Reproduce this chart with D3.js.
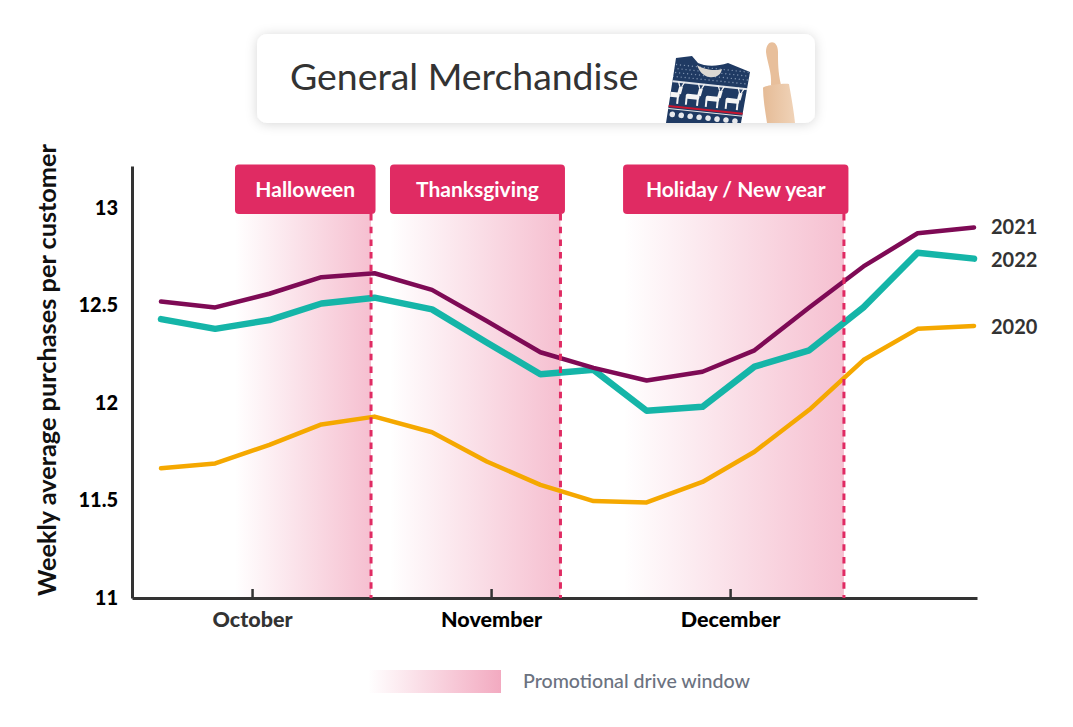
<!DOCTYPE html>
<html>
<head>
<meta charset="utf-8">
<style>
  body { margin: 0; background: #fff; }
  svg { display: block; font-family: Lato, sans-serif; }
</style>
<script src="https://cdn.jsdelivr.net/npm/d3@7"></script>
</head>
<body>
<div id="chart"></div>
<script>
// data
const weeks = [0, 1, 2, 2.96, 3.94, 5, 6.01, 7, 7.98, 8.96, 9.99, 10.95, 11.96, 12.96, 13.96, 15];
const values2020 = [11.665, 11.69, 11.785, 11.89, 11.93, 11.85, 11.70, 11.58, 11.497, 11.49, 11.595, 11.75, 11.965, 12.22, 12.38, 12.395];
const values2021 = [12.52, 12.49, 12.56, 12.645, 12.665, 12.58, 12.42, 12.26, 12.18, 12.115, 12.16, 12.27, 12.49, 12.70, 12.87, 12.90];
const values2022 = [12.43, 12.38, 12.425, 12.51, 12.54, 12.48, 12.31, 12.147, 12.17, 11.96, 11.98, 12.186, 12.27, 12.49, 12.77, 12.74];
const yTicks = [11, 11.5, 12, 12.5, 13];
const monthNames = ["October", "November", "December"];
const monthWeeks = [1.68, 6.09, 10.5];
const windowNames = ["Halloween", "Thanksgiving", "Holiday / New year"];
const windowStarts = [1.365, 4.225, 8.525];
const windowEnds = [3.875, 7.37, 12.6];

const series = [
    { name: "2020", values: values2020, color: "#f5a800", width: 4.5, labelY: 327 },
    { name: "2022", values: values2022, color: "#15b5a8", width: 6.5, labelY: 260 },
    { name: "2021", values: values2021, color: "#7e0a55", width: 4.5, labelY: 227 }
];

const pink = "#e02b63";
const dark = "#333333";

const svg = d3.select("#chart").append("svg")
    .attr("width", 1073)
    .attr("height", 727);

const x = d3.scaleLinear().domain([-0.535, 15.055]).range([132, 977]);
const y = d3.scaleLinear().domain([11, 13.215]).range([598, 166]);

const defs = svg.append("defs");

function addGradient(id, opacity) {
    const g = defs.append("linearGradient").attr("id", id);
    g.append("stop").attr("offset", "0%").attr("stop-color", pink).attr("stop-opacity", 0);
    g.append("stop").attr("offset", "100%").attr("stop-color", pink).attr("stop-opacity", opacity);
}
addGradient("windowFade", 0.3);
addGradient("legendFade", 0.4);

const shadow = defs.append("filter").attr("id", "cardShadow")
    .attr("x", "-10%").attr("y", "-40%").attr("width", "120%").attr("height", "180%");
shadow.append("feDropShadow")
    .attr("dx", 0).attr("dy", 1).attr("stdDeviation", 6)
    .attr("flood-color", "#000").attr("flood-opacity", 0.16);

// title card
svg.append("rect")
    .attr("x", 257).attr("y", 34)
    .attr("width", 558).attr("height", 89)
    .attr("rx", 10)
    .attr("fill", "#fff")
    .attr("filter", "url(#cardShadow)");

svg.append("text")
    .attr("x", 290).attr("y", 90)
    .attr("font-size", 37.4)
    .attr("fill", dark)
    .text("General Merchandise");

drawSweater();
drawRollingPin();

// promotional windows
const windows = d3.range(windowNames.length).map(i => ({
    name: windowNames[i], start: windowStarts[i], end: windowEnds[i]
}));

svg.append("g").selectAll("rect")
    .data(windows)
    .enter().append("rect")
    .attr("x", d => x(d.start))
    .attr("y", 214)
    .attr("width", d => x(d.end) - x(d.start))
    .attr("height", y(11) - 214)
    .attr("fill", "url(#windowFade)");

// axes
const yAxis = svg.append("g")
    .attr("transform", "translate(132,0)")
    .call(d3.axisLeft(y).tickValues(yTicks).tickSize(0).tickPadding(14).tickFormat(d3.format("")));

const xAxis = svg.append("g")
    .attr("transform", "translate(0,598)")
    .call(d3.axisBottom(x).tickValues(monthWeeks).tickSizeInner(-9).tickSizeOuter(0).tickPadding(14)
        .tickFormat((d, i) => monthNames[i]));

[yAxis, xAxis].forEach(axis => {
    axis.select(".domain").attr("stroke", dark).attr("stroke-width", 3);
    axis.selectAll("line").attr("stroke", dark).attr("stroke-width", 2.5);
    axis.selectAll("text")
        .attr("font-family", "Lato, sans-serif")
        .attr("font-weight", 900)
        .attr("fill", "#000");
});
yAxis.selectAll("text").attr("font-size", 20);
xAxis.selectAll("text").attr("font-size", 21.5).attr("dy", "0.71em");
xAxis.selectAll("text").filter((d, i) => i === 0).attr("fill", dark);

// y axis title
svg.append("text")
    .attr("transform", "translate(56,370) rotate(-90)")
    .attr("text-anchor", "middle")
    .attr("font-size", 25.3)
    .attr("font-weight", 700)
    .attr("fill", "#111")
    .text("Weekly average purchases per customer");

// lines
const line = d3.line()
    .x((d, i) => x(weeks[i]))
    .y(d => y(d));

svg.append("g").selectAll("path")
    .data(series)
    .enter().append("path")
    .attr("d", d => line(d.values))
    .attr("fill", "none")
    .attr("stroke", d => d.color)
    .attr("stroke-width", d => d.width)
    .attr("stroke-linecap", "round")
    .attr("stroke-linejoin", "round");

// series labels at the right end
svg.append("g").selectAll("text")
    .data(series)
    .enter().append("text")
    .attr("x", 991)
    .attr("y", d => d.labelY)
    .attr("dy", "0.35em")
    .attr("font-size", 20)
    .attr("font-weight", 700)
    .attr("fill", dark)
    .text(d => d.name);

// dashed line closing each window
svg.append("g").selectAll("line")
    .data(windows)
    .enter().append("line")
    .attr("x1", d => x(d.end))
    .attr("x2", d => x(d.end))
    .attr("y1", 214)
    .attr("y2", 598)
    .attr("stroke", pink)
    .attr("stroke-width", 3)
    .attr("stroke-dasharray", "6.5 6.2");

// window labels
const tags = svg.append("g").selectAll("g")
    .data(windows)
    .enter().append("g");

tags.append("rect")
    .attr("x", d => x(d.start))
    .attr("y", 164.5)
    .attr("width", d => x(d.end) - x(d.start) + 4.5)
    .attr("height", 49.5)
    .attr("rx", 4)
    .attr("fill", pink);

tags.append("text")
    .attr("x", d => (x(d.start) + x(d.end) + 4.5) / 2)
    .attr("y", 190)
    .attr("text-anchor", "middle")
    .attr("dy", "0.35em")
    .attr("font-size", 21)
    .attr("font-weight", 700)
    .attr("fill", "#fff")
    .text(d => d.name);

// legend
svg.append("rect")
    .attr("x", 368).attr("y", 670)
    .attr("width", 133).attr("height", 23)
    .attr("fill", "url(#legendFade)");

svg.append("text")
    .attr("x", 523).attr("y", 681.5)
    .attr("dy", "0.35em")
    .attr("font-size", 19.6)
    .attr("font-weight", 500)
    .attr("fill", "#6b7280")
    .text("Promotional drive window");

// decoration in the card: jumper
function drawSweater() {
    defs.append("clipPath").attr("id", "sweaterClip")
        .append("path")
        .attr("d", "M676,58 L692,56 L698,63 C704,66 716,67 728,63 L750,72 L741,123 L666,123 Z");

    const s = svg.append("g").attr("clip-path", "url(#sweaterClip)");
    s.append("rect").attr("x", 660).attr("y", 50).attr("width", 95).attr("height", 75).attr("fill", "#1f3a63");

    // tilted knit rows, so the pattern follows the jumper
    const knit = s.append("g").attr("transform", "rotate(6 708 90)");

    d3.range(668, 752, 4).forEach(px => {
        d3.range(68, 82, 4).forEach(py => {
            knit.append("circle").attr("cx", px + (py % 8 ? 2 : 0)).attr("cy", py).attr("r", 0.7).attr("fill", "#7f93b0");
        });
    });
    knit.append("rect").attr("x", 660).attr("y", 84).attr("width", 95).attr("height", 2).attr("fill", "#dfe3ea");

    // reindeer row
    [674, 694, 714, 734].forEach(px => {
        const deer = knit.append("g").attr("transform", `translate(${px},97) scale(1.25)`).attr("fill", "#f4f4f4");
        deer.append("rect").attr("x", -6).attr("y", -1).attr("width", 11).attr("height", 4).attr("rx", 1.5);
        deer.append("rect").attr("x", -6).attr("y", 2).attr("width", 1.6).attr("height", 6);
        deer.append("rect").attr("x", 3).attr("y", 2).attr("width", 1.6).attr("height", 6);
        deer.append("path").attr("d", "M3,0 L4,-6 L7,-6 L6,0 Z");
        deer.append("path").attr("d", "M4.5,-6 L3,-10 M6,-6 L8,-10").attr("stroke", "#f4f4f4").attr("stroke-width", 1);
    });

    knit.append("rect").attr("x", 660).attr("y", 109).attr("width", 95).attr("height", 2).attr("fill", "#c8152f");
    knit.append("rect").attr("x", 660).attr("y", 112).attr("width", 95).attr("height", 1).attr("fill", "#e8e8e8");

    // snowflake row
    d3.range(666, 752, 9).forEach(px => {
        knit.append("circle").attr("cx", px).attr("cy", 118).attr("r", 2.8)
            .attr("fill", "#e6e8ec");
    });

    // collar
    svg.append("path")
        .attr("d", "M697,65 C704,70 716,71 722,69 C721,75 716,78 709,77 C703,76 699,71 697,65 Z")
        .attr("fill", "#dcd8d2");
}

// decoration in the card: rolling pin
function drawRollingPin() {
    const wood = defs.append("linearGradient").attr("id", "woodFade");
    wood.append("stop").attr("offset", "0%").attr("stop-color", "#e5bb96");
    wood.append("stop").attr("offset", "100%").attr("stop-color", "#f0d3b8");

    svg.append("path")
        .attr("d", "M766,52 C766,39 778,39 778,52 C778,62 778,72 781,85 L771,85 C772,72 767,62 766,52 Z")
        .attr("fill", "#e8bf9b");
    svg.append("path")
        .attr("d", "M763,88 C764,85 786,83 789,84 C791,95 794,112 795,123 L767,123 C765,110 763,98 763,88 Z")
        .attr("fill", "url(#woodFade)");
}
</script>
</body>
</html>
